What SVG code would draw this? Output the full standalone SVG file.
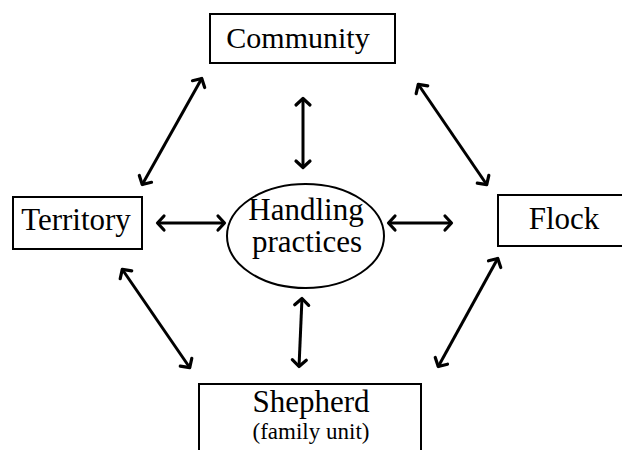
<svg xmlns="http://www.w3.org/2000/svg" width="622" height="450" viewBox="0 0 622 450">
<style>
.box{fill:#fff;stroke:#000;stroke-width:2}
.t{font-family:"Liberation Serif","Times New Roman",serif;font-size:31px;fill:#000;text-anchor:middle}
.s{font-size:23px}
.c line{stroke:#000;stroke-width:3;marker-start:url(#ah);marker-end:url(#ah)}
</style>
<defs>
<marker id="ah" markerUnits="userSpaceOnUse" viewBox="-10 -10 12 20" markerWidth="12" markerHeight="20" refX="0" refY="0" orient="auto-start-reverse">
<path d="M-7,-7 L-0.5,0 L-7,7" fill="none" stroke="#000" stroke-width="3.2" stroke-linejoin="round" stroke-linecap="round"/>
</marker>
</defs>
<rect width="622" height="450" fill="#fff"/>
<g id="community"><rect class="box" x="210" y="14" width="185" height="49"/><text class="t" x="298" y="48" style="font-size:30px">Community</text></g>
<g id="territory"><rect class="box" x="13" y="197" width="129" height="52"/><text class="t" x="76" y="230">Territory</text></g>
<g id="flock"><rect class="box" x="498" y="195" width="140" height="51"/><text class="t" x="564" y="229">Flock</text></g>
<g id="shepherd"><rect class="box" x="199" y="384" width="222" height="80"/><text class="t" x="311" y="412">Shepherd</text><text class="t s" x="311" y="439">(family unit)</text></g>
<g id="handling"><ellipse class="box" cx="305.5" cy="236" rx="78.5" ry="52"/><text class="t" x="306" y="220">Handling</text><text class="t" x="307" y="252">practices</text></g>
<g class="c" id="connectors">
<line x1="202" y1="78" x2="142" y2="185"/>
<line x1="303" y1="98" x2="303" y2="168"/>
<line x1="418" y1="84" x2="487" y2="185"/>
<line x1="157" y1="223" x2="225" y2="223"/>
<line x1="388" y1="223" x2="452" y2="223"/>
<line x1="302" y1="298" x2="299" y2="367"/>
<line x1="122" y1="269" x2="190" y2="368"/>
<line x1="498" y1="258" x2="438" y2="367"/>
</g>
</svg>
